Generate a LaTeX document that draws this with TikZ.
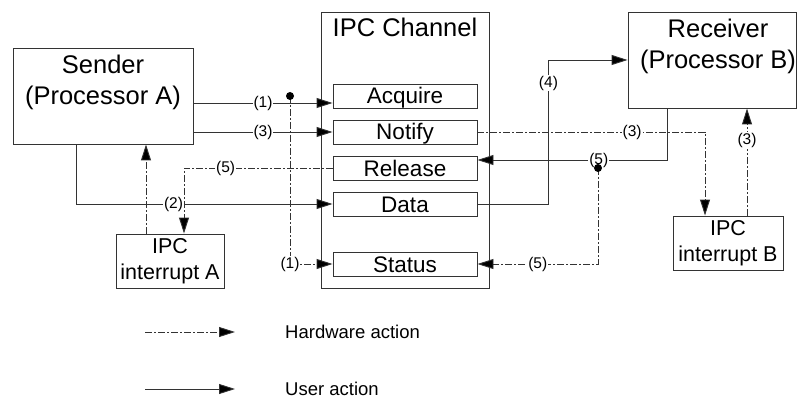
\documentclass[tikz,border=0pt]{standalone}
\usepackage{fontspec}
\setmainfont{Liberation Sans}
\usetikzlibrary{calc,arrows.meta}
\definecolor{line}{HTML}{333333}
\tikzset{
  procbox/.style={draw=line, line width=0.9pt, inner sep=0pt},
  head/.style={anchor=north, align=center, inner sep=0pt, font=\fontsize{25.5}{31}\selectfont},
  regbox/.style={draw=line, line width=0.9pt, minimum width=144pt, minimum height=24pt,
    text height=16pt, text depth=0pt, inner sep=0pt, font=\fontsize{22.5}{27}\selectfont},
  intbox/.style={draw=line, line width=0.9pt, minimum height=54pt, align=center,
    inner sep=0pt, font=\fontsize{21.5}{26}\selectfont},
  user/.style={draw=line, line width=0.9pt, -{Triangle[length=16pt,width=10pt,fill=black]}},
  hw/.style={user, dash pattern=on 7pt off 2pt on 2pt off 2pt},
  num/.style={fill=white, inner sep=1pt, font=\fontsize{15.5}{18}\selectfont},
  dot/.style={circle, fill=black, inner sep=0pt, minimum size=8pt},
  legtext/.style={anchor=west, inner sep=0pt, font=\fontsize{18.5}{22}\selectfont}
}
\begin{document}
\begin{tikzpicture}[x=1pt, y=-1pt]
  \useasboundingbox (0,0) rectangle (797,398);

  \node[procbox, minimum width=180pt, minimum height=96pt,
    label={[head, yshift=-7.5pt]north:Sender\\(Processor A)}] (snd) at (103,96) {};
  \node[procbox, minimum width=168pt, minimum height=276pt,
    label={[head, yshift=-6.5pt]north:IPC Channel}] (chn) at (405,150) {};
  \node[procbox, minimum width=168pt, minimum height=96pt,
    label={[head, xshift=6pt, yshift=-7.5pt]north:Receiver\\(Processor B)}] (rcv) at (712,60) {};

  \node[regbox] (acq) at (405,96) {Acquire};
  \node[regbox] (ntf) at (405,132) {Notify};
  \node[regbox] (rel) at (405,168) {Release};
  \node[regbox] (dat) at (405,204) {Data};
  \node[regbox] (sts) at (405,264) {Status};

  \node[intbox, minimum width=108pt] (inta) at (170,261) {IPC\\interrupt A};
  \node[intbox, minimum width=110pt] (intb) at (728,243) {IPC\\interrupt B};

  \coordinate (d1) at (290,96);
  \coordinate (d2) at (598,168);
  \coordinate (acqin) at ([yshift=-7pt]acq.west);
  \coordinate (relin) at ([yshift=8pt]rel.east);

  \draw[hw] (rel.west) -| node[num, pos=0.36] {(5)} ([xshift=14pt]inta.north);
  \draw[hw] ([xshift=-24pt]inta.north) -- ([xshift=-24pt]inta.north |- snd.south);
  \draw[hw] (d1) |- node[num] {(1)} (sts.west);
  \draw[hw] (ntf.east) -| node[num, pos=0.34] {(3)} ([xshift=-23pt]intb.north);
  \draw[hw] (d2) |- node[num, pos=0.75] {(5)} (sts.east);
  \draw[hw] ([xshift=19pt]intb.north) -- node[num, pos=0.7] {(3)} ([xshift=19pt]intb.north |- rcv.south);

  \draw[user] (snd.east |- acqin) -- node[num] {(1)} (acqin);
  \draw[user] (snd.east |- ntf.west) -- node[num] {(3)} (ntf.west);
  \draw[user] ([xshift=-27pt]snd.south) |- node[num, pos=0.69] {(2)} (dat.west);
  \draw[user] ([xshift=-45pt]rcv.south) |- node[num, pos=0.68] {(5)} (relin);
  \draw[user] (dat.east) -- ++(71,0) |- node[num, pos=0.42] {(4)} (rcv.west);

  \node[dot] (dot1) at (d1) {};
  \node[dot] (dot2) at (d2) {};

  \coordinate (hw0) at (145,332);
  \coordinate (hw1) at (235,332);
  \draw[hw] (hw0) -- (hw1);
  \node[legtext] (lhw) at (285,332) {Hardware action};
  \coordinate (us0) at (145,389);
  \coordinate (us1) at (235,389);
  \draw[user] (us0) -- (us1);
  \node[legtext] (lus) at (285,389) {User action};
\end{tikzpicture}
\end{document}
